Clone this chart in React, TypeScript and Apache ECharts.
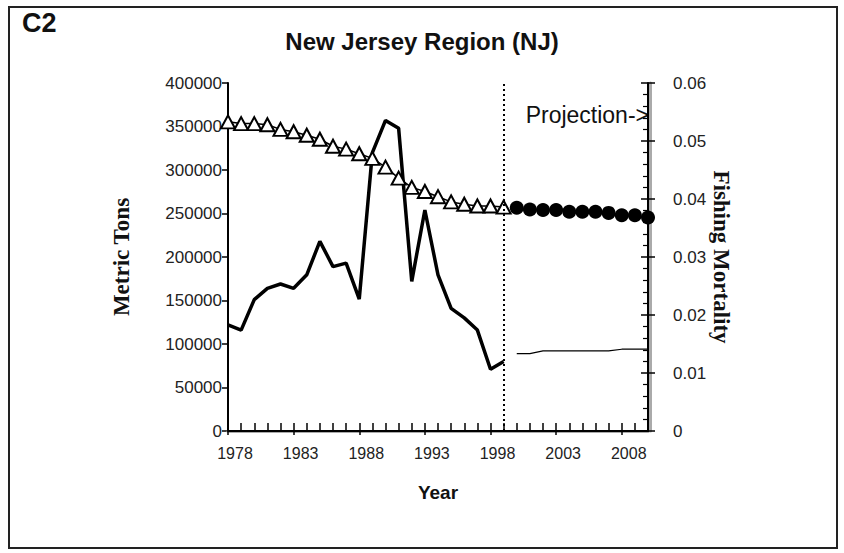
import React, { useEffect, useRef } from "react";
import * as echarts from "echarts";

const years: string[] = [];
for (let y = 1978; y <= 2010; y++) years.push(String(y));

const histYears = ["1978","1979","1980","1981","1982","1983","1984","1985","1986","1987","1988","1989","1990","1991","1992","1993","1994","1995","1996","1997","1998","1999"];
const projYears = ["2000","2001","2002","2003","2004","2005","2006","2007","2008","2009","2010"];

const metricTons = [122000,116000,151000,164000,169000,164000,179500,218000,189000,193000,151500,320000,357000,348000,172000,254000,179500,141000,130000,116000,71000,80000];
const metricTonsProj = [89000,89000,92000,92000,92000,92000,92000,92000,94000,94000,94000];
const fishingMort = [0.0533,0.0530,0.0530,0.0528,0.0520,0.0516,0.0510,0.0503,0.0491,0.0486,0.0478,0.0470,0.0455,0.0436,0.0420,0.0413,0.0404,0.0395,0.0391,0.0388,0.0388,0.0386];
const fishingMortProj = [0.0385,0.0382,0.0381,0.0381,0.0378,0.0378,0.0378,0.0376,0.0372,0.0372,0.0368];

const leftTicks = [0, 400000, 50000];
const rightTicks = [0, 0.06, 0.01];
const dividerYear = "1999";

function fill(keys: string[], vals: number[]) {
  return years.map((y) => {
    const i = keys.indexOf(y);
    return i >= 0 ? vals[i] : null;
  });
}

const SANS = "Arial, 'Liberation Sans', sans-serif";
const SERIF = "'Times New Roman', 'Liberation Serif', serif";

const hiddenCat = (position: string, extra: any = {}) => ({
  type: "category",
  data: years,
  boundaryGap: false,
  position,
  axisLine: { show: false },
  axisTick: { show: false },
  axisLabel: { show: false },
  splitLine: { show: false },
  ...extra,
});

export default function App() {
  const ref = useRef<HTMLDivElement>(null);
  useEffect(() => {
    if (!ref.current) return;
    const chart = echarts.init(ref.current, undefined, { renderer: "svg" });
    const option: any = {
      animation: false,
      backgroundColor: "#fff",
      title: {
        text: "New Jersey Region (NJ)",
        left: "center",
        top: 24,
        textStyle: { fontFamily: SANS, fontWeight: "bold", fontSize: 24, color: "#111" },
      },
      grid: { left: 228, top: 83, right: 196, bottom: 122 },
      graphic: [
        { type: "rect", shape: { x: 9, y: 7, width: 828, height: 541 }, style: { fill: "none", stroke: "#222", lineWidth: 2 } },
        { type: "text", x: 22, y: 23, style: { text: "C2", font: `bold 27px ${SANS}`, fill: "#111", verticalAlign: "middle" } },
        { type: "text", x: 649, y: 115, style: { text: "Projection->", font: `23px ${SANS}`, fill: "#111", align: "right", verticalAlign: "middle" } },
      ],
      xAxis: [
        {
          type: "category",
          data: years,
          boundaryGap: false,
          position: "bottom",
          axisLine: { lineStyle: { color: "#000", width: 2 } },
          axisTick: { inside: true, length: 8, interval: 0, lineStyle: { color: "#000", width: 1.5 } },
          axisLabel: { interval: 4, fontSize: 16, fontFamily: SANS, color: "#222", margin: 14, padding: [0, 0, 0, 14] },
          splitLine: { show: false },
          name: "Year",
          nameLocation: "middle",
          nameGap: 52,
          nameTextStyle: { fontFamily: SANS, fontWeight: "bold", fontSize: 19, color: "#111" },
          z: 5,
        },
        hiddenCat("bottom", {
          axisTick: { show: true, inside: false, length: 4, interval: 4, lineStyle: { color: "#000", width: 1.5 } },
          z: 5,
        }),
        hiddenCat("top", { axisLine: { show: true, lineStyle: { color: "#808080", width: 2 } } }),
        hiddenCat("bottom", { offset: 2, axisLine: { show: true, lineStyle: { color: "#aaa", width: 3 } }, z: 1 }),
      ],
      yAxis: [
        {
          type: "value",
          position: "left",
          min: leftTicks[0],
          max: leftTicks[1],
          interval: leftTicks[2],
          axisLine: { show: true, lineStyle: { color: "#000", width: 2 } },
          axisTick: { show: true, inside: false, length: 6, lineStyle: { color: "#000", width: 1.5 } },
          axisLabel: { fontSize: 17, fontFamily: SANS, color: "#222", margin: 6, formatter: (v: number) => String(v) },
          splitLine: { show: false },
          name: "Metric Tons",
          nameLocation: "middle",
          nameRotate: 90,
          nameGap: 95,
          nameTextStyle: { fontFamily: SERIF, fontWeight: "bold", fontSize: 23, color: "#111" },
        },
        {
          type: "value",
          position: "right",
          min: rightTicks[0],
          max: rightTicks[1],
          interval: rightTicks[2],
          axisLine: { show: true, lineStyle: { color: "#000", width: 2 } },
          axisTick: { show: true, inside: false, length: 7, lineStyle: { color: "#000", width: 1.5 } },
          axisLabel: { fontSize: 17, fontFamily: SANS, color: "#222", margin: 25, formatter: (v: number) => String(Math.round(v * 100) / 100) },
          splitLine: { show: false },
          name: "Fishing Mortality",
          nameLocation: "middle",
          nameRotate: -90,
          nameGap: 60,
          nameTextStyle: { fontFamily: SERIF, fontWeight: "bold", fontSize: 23, color: "#111" },
          z: 5,
        },
        {
          type: "value",
          position: "right",
          min: rightTicks[0],
          max: rightTicks[1],
          interval: rightTicks[2],
          axisLine: { show: false },
          axisTick: { show: true, inside: true, length: 7, lineStyle: { color: "#000", width: 1.5 } },
          minorTick: { show: true, splitNumber: 5, length: 5, lineStyle: { color: "#000", width: 1.2 } },
          axisLabel: { show: false },
          splitLine: { show: false },
          z: 5,
        },
        {
          type: "value",
          position: "right",
          offset: 2,
          min: rightTicks[0],
          max: rightTicks[1],
          interval: rightTicks[2],
          axisLine: { show: true, lineStyle: { color: "#aaa", width: 3 } },
          axisTick: { show: false },
          axisLabel: { show: false },
          splitLine: { show: false },
          z: 1,
        },
      ],
      series: [
        {
          name: "Metric Tons",
          type: "line",
          xAxisIndex: 0,
          yAxisIndex: 0,
          data: fill(histYears, metricTons),
          symbol: "none",
          lineStyle: { color: "#000", width: 3.5 },
          z: 3,
          markLine: {
            silent: true,
            symbol: "none",
            label: { show: false },
            lineStyle: { type: [2, 3], color: "#000", width: 2 },
            data: [{ xAxis: dividerYear }],
          },
        },
        {
          name: "Metric Tons Projection",
          type: "line",
          xAxisIndex: 0,
          yAxisIndex: 0,
          data: fill(projYears, metricTonsProj),
          symbol: "none",
          lineStyle: { color: "#000", width: 1.2 },
          z: 3,
        },
        {
          name: "Fishing Mortality",
          type: "line",
          xAxisIndex: 0,
          yAxisIndex: 1,
          data: fill(histYears, fishingMort),
          symbol: "triangle",
          showSymbol: true,
          showAllSymbol: true,
          symbolSize: [14, 13],
          itemStyle: { color: "#fff", borderColor: "#000", borderWidth: 2 },
          lineStyle: { color: "#000", width: 1.5 },
          z: 4,
        },
        {
          name: "Fishing Mortality Projection",
          type: "line",
          xAxisIndex: 0,
          yAxisIndex: 1,
          data: fill(projYears, fishingMortProj),
          symbol: "circle",
          showSymbol: true,
          showAllSymbol: true,
          symbolSize: 14,
          itemStyle: { color: "#000" },
          lineStyle: { color: "#000", width: 1 },
          z: 4,
        },
      ],
    };
    chart.setOption(option);
    return () => chart.dispose();
  }, []);
  return (
    <div
      ref={ref}
      style={{ position: "fixed", left: 0, top: 0, width: 844, height: 553, background: "#fff" }}
    />
  );
}
